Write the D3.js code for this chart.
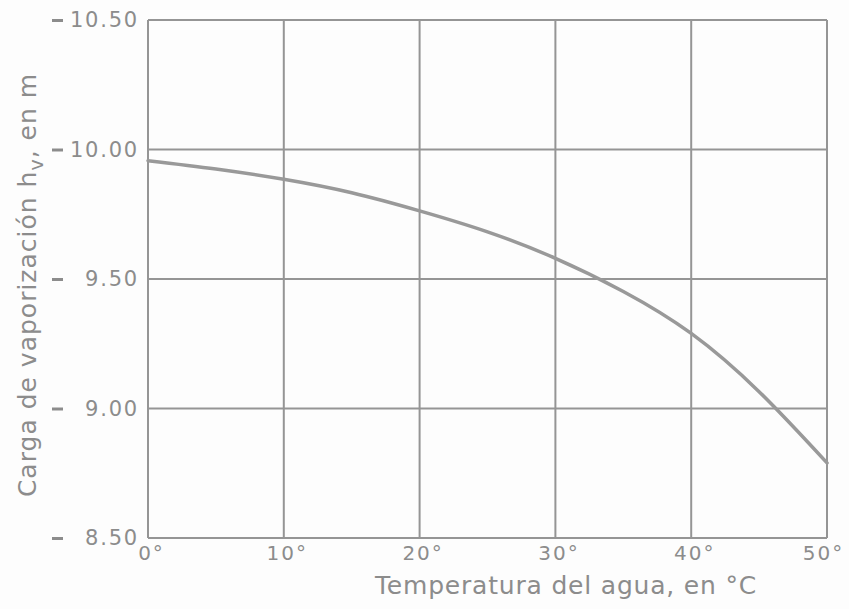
<!DOCTYPE html>
<html>
<head>
<meta charset="utf-8">
<script src="https://cdn.jsdelivr.net/npm/d3@7"></script>
<style>
  html, body { margin: 0; padding: 0; background: #fdfdfd; }
  svg { display: block; }
  text { font-family: "DejaVu Sans", sans-serif; fill: #8c8c8c; }
</style>
</head>
<body>
<svg id="chart" width="849" height="609"></svg>
<script>
// Data
const temperatures = [0, 5, 10, 15, 20, 25, 30, 35, 40, 45, 50];
const headValues = [9.957, 9.925, 9.885, 9.833, 9.763, 9.682, 9.58, 9.452, 9.29, 9.065, 8.79];
const xTicks = [0, 10, 20, 30, 40, 50];
const xTickLabels = ["0°", "10°", "20°", "30°", "40°", "50°"];
const yTicks = [8.5, 9.0, 9.5, 10.0, 10.5];
const yTickLabels = ["8.50", "9.00", "9.50", "10.00", "10.50"];
const xTitle = "Temperatura del agua, en °C";

const svg = d3.select("#chart");
const mLeft = 148, mRight = 827, mTop = 20, mBottom = 538;
const gray = "#959595";

const x = d3.scaleLinear().domain([0, 50]).range([mLeft, mRight]);
const y = d3.scaleLinear().domain([8.5, 10.5]).range([mBottom, mTop]);

// Grid
const grid = svg.append("g");
grid.selectAll("line.v").data(xTicks).join("line").attr("class", "v")
  .attr("x1", d => x(d)).attr("x2", d => x(d))
  .attr("y1", mTop).attr("y2", mBottom)
  .attr("stroke", gray).attr("stroke-width", 2);
grid.selectAll("line.h").data(yTicks).join("line").attr("class", "h")
  .attr("x1", mLeft).attr("x2", mRight)
  .attr("y1", d => y(d)).attr("y2", d => y(d))
  .attr("stroke", gray).attr("stroke-width", 2);

// Y axis labels
const yAxis = d3.axisLeft(y).tickValues(yTicks)
  .tickFormat((d, i) => yTickLabels[i]).tickSize(0).tickPadding(9);
const gy = svg.append("g").attr("transform", `translate(${mLeft},0)`).call(yAxis);
gy.select(".domain").remove();
gy.selectAll("text").attr("font-size", 21).attr("letter-spacing", 1.8)
  .attr("fill", "#8c8c8c").attr("font-family", "DejaVu Sans, sans-serif");
gy.selectAll(".tick").append("line")
  .attr("x1", 52 - mLeft).attr("x2", 63 - mLeft).attr("y1", 0).attr("y2", 0)
  .attr("stroke", "#8c8c8c").attr("stroke-width", 3);

// X axis labels
const xAxis = d3.axisBottom(x).tickValues(xTicks)
  .tickFormat((d, i) => xTickLabels[i]).tickSize(0).tickPadding(8);
const gx = svg.append("g").attr("transform", `translate(0,${mBottom})`).call(xAxis);
gx.select(".domain").remove();
gx.selectAll("text").attr("font-size", 20).attr("letter-spacing", 2)
  .attr("dx", (d, i) => i === xTicks.length - 1 ? -4 : 3)
  .attr("fill", "#8c8c8c").attr("font-family", "DejaVu Sans, sans-serif");

// Curve
const line = d3.line()
  .x((d, i) => x(temperatures[i]))
  .y(d => y(d))
  .curve(d3.curveNatural);
svg.append("path").datum(headValues)
  .attr("d", line)
  .attr("fill", "none")
  .attr("stroke", "#999")
  .attr("stroke-width", 3.5)
  .attr("stroke-linecap", "round");

// Titles
svg.append("text")
  .attr("x", 566).attr("y", 594)
  .attr("text-anchor", "middle")
  .attr("font-size", 25).attr("letter-spacing", 0.8)
  .text(xTitle);

const yt = svg.append("text")
  .attr("transform", "translate(36,285) rotate(-90)")
  .attr("text-anchor", "middle")
  .attr("font-size", 25).attr("letter-spacing", 1);
yt.append("tspan").text("Carga de vaporización h");
yt.append("tspan").attr("font-size", 19).attr("dy", 7).text("v");
yt.append("tspan").attr("dy", -7).text(", en m");
</script>
</body>
</html>
